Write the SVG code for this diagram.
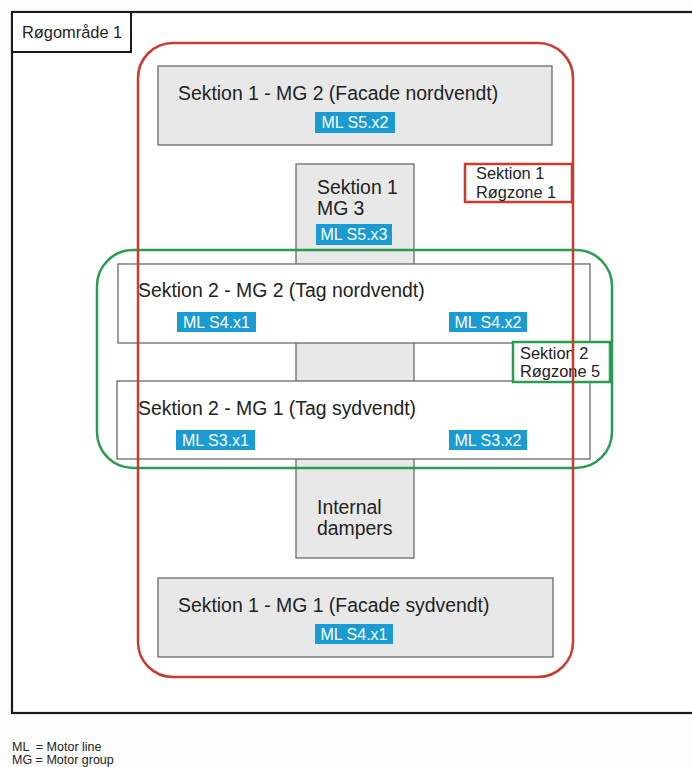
<svg xmlns="http://www.w3.org/2000/svg" width="692" height="767" viewBox="0 0 692 767">
<style>
text{font-family:"Liberation Sans",Arial,sans-serif;fill:#222}
.big{font-size:19.4px}
.mid{font-size:16.4px}
.ml{font-size:16px;fill:#fff;text-anchor:middle}
.leg{font-size:12.5px;white-space:pre}
.gray{fill:#e8e8e8;stroke:#6a6a6a;stroke-width:1.3}
.white{fill:#fff;stroke:#6a6a6a;stroke-width:1.3}
.blue{fill:#1a9bd3}
.red{fill:none;stroke:#c83b2d;stroke-width:2.5}
.green{fill:none;stroke:#2a9b52;stroke-width:2.5}
</style>
<rect x="0" y="0" width="692" height="767" fill="#fcfcfc"/>
<g id="rogomrade">
<rect x="12" y="12" width="700" height="701" fill="#fff" stroke="#1a1a1a" stroke-width="2.2"/>
<rect x="12" y="12" width="119" height="40" fill="#fff" stroke="#1a1a1a" stroke-width="2"/>
<text class="mid" x="22" y="38">Røgområde 1</text>
</g>
<g id="s1-mg3">
<rect class="gray" x="296" y="164" width="118" height="394"/>
<text class="big" x="317" y="194">Sektion 1</text>
<text class="big" x="317" y="215">MG 3</text>
<rect class="blue" x="316" y="224" width="76" height="21"/>
<text class="ml" x="354" y="240">ML S5.x3</text>
<text class="big" x="317" y="514">Internal</text>
<text class="big" x="317" y="535">dampers</text>
</g>
<g id="s1-mg2">
<rect class="gray" x="158" y="66" width="394" height="79"/>
<text class="big" x="178" y="100">Sektion 1 - MG 2 (Facade nordvendt)</text>
<rect class="blue" x="315" y="112" width="80" height="21"/>
<text class="ml" x="355" y="128">ML S5.x2</text>
</g>
<g id="s1-mg1">
<rect class="gray" x="158" y="578" width="395" height="79"/>
<text class="big" x="178" y="612">Sektion 1 - MG 1 (Facade sydvendt)</text>
<rect class="blue" x="315" y="624" width="78" height="20"/>
<text class="ml" x="354" y="640">ML S4.x1</text>
</g>
<g id="s2-mg2">
<rect class="white" x="118" y="264" width="472" height="79"/>
<text class="big" x="138" y="297">Sektion 2 - MG 2 (Tag nordvendt)</text>
<rect class="blue" x="177" y="312" width="79" height="20"/>
<text class="ml" x="216.5" y="328">ML S4.x1</text>
<rect class="blue" x="449" y="312" width="78" height="20"/>
<text class="ml" x="488" y="328">ML S4.x2</text>
</g>
<g id="s2-mg1">
<rect class="white" x="117" y="381" width="473" height="78"/>
<text class="big" x="138" y="415">Sektion 2 - MG 1 (Tag sydvendt)</text>
<rect class="blue" x="176" y="430" width="79" height="20"/>
<text class="ml" x="215.5" y="446">ML S3.x1</text>
<rect class="blue" x="449" y="430" width="78" height="20"/>
<text class="ml" x="488" y="446">ML S3.x2</text>
</g>
<g id="zone-s2">
<rect class="green" x="97" y="250" width="515" height="218" rx="36"/>
<rect x="513" y="342" width="97" height="40" fill="#fff" stroke="#2a9b52" stroke-width="2.5"/>
<text class="mid" x="520" y="359">Sektion 2</text>
<text class="mid" x="520" y="377">Røgzone 5</text>
</g>
<g id="zone-s1">
<rect class="red" x="138" y="43" width="435" height="634" rx="35"/>
<rect x="465" y="164" width="107" height="38" fill="#fff" stroke="#c83b2d" stroke-width="2.5"/>
<text class="mid" x="476" y="179">Sektion 1</text>
<text class="mid" x="476" y="198">Røgzone 1</text>
</g>
<g id="connectors"/>
<g id="legend">
<text class="leg" x="12" y="751">ML  = Motor line</text>
<text class="leg" x="12" y="764">MG = Motor group</text>
</g>
</svg>
